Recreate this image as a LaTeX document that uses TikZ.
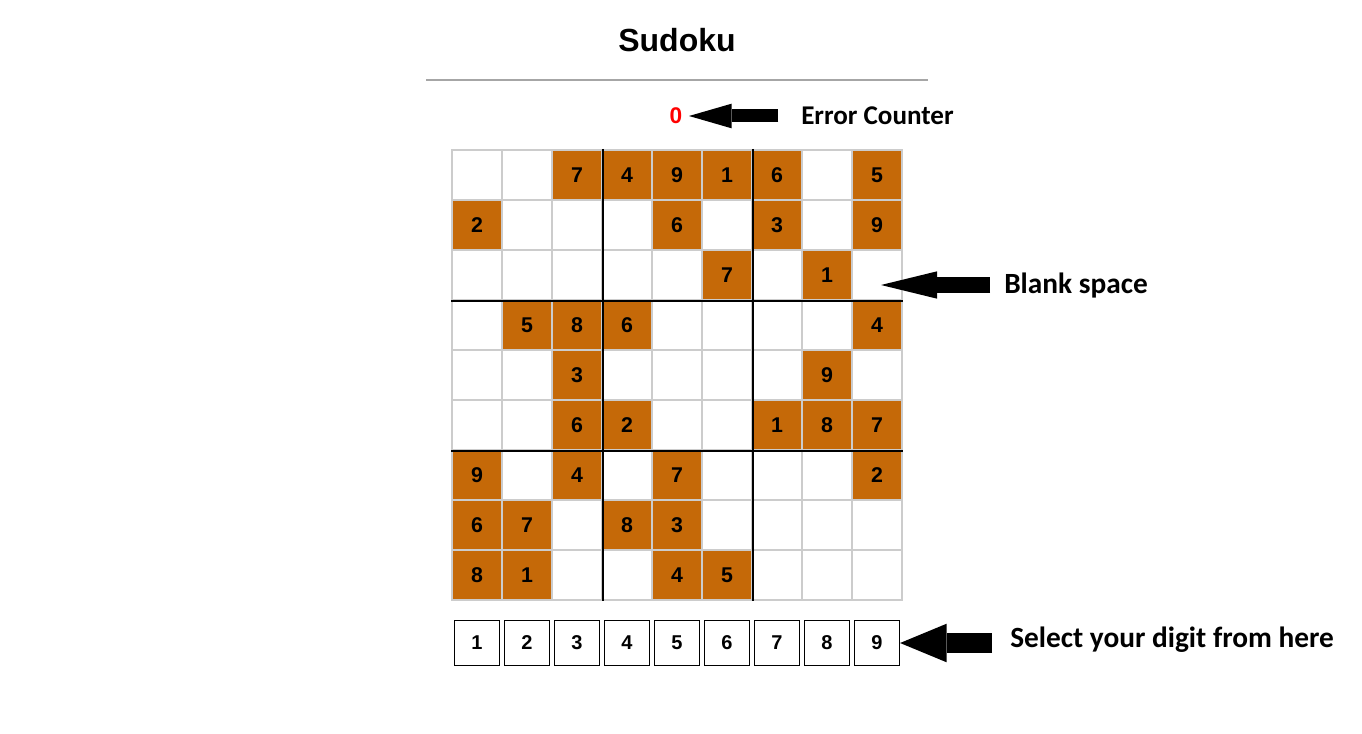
\documentclass[tikz,border=0pt]{standalone}
\usepackage{fontspec}
\setmainfont{Liberation Sans}
\newfontfamily\calfont{Carlito}
\usetikzlibrary{arrows.meta}
\definecolor{given}{RGB}{197,105,8}
\definecolor{gridgray}{RGB}{204,204,204}
\definecolor{rulegray}{RGB}{166,166,166}
\definecolor{errred}{RGB}{255,0,0}
\begin{document}
\begin{tikzpicture}[x=0.75pt,y=-0.75pt,
  cellbox/.style={draw=gridgray,line width=1.5pt,minimum size=37.5pt,inner sep=0pt,
    font=\bfseries\fontsize{16}{16}\selectfont},
  givencell/.style={cellbox,fill=given},
  blockline/.style={draw=black},
  digitbox/.style={draw=black,line width=0.8pt,minimum size=33.8pt,inner sep=0pt,
    font=\bfseries\fontsize{15}{15}\selectfont},
  note/.style={font=\calfont\bfseries\fontsize{22}{22}\selectfont,inner sep=0pt,anchor=west},
  bigarrow/.style n args={3}{draw=black,line width=#1,
    -{Triangle[length=#2,width=#3,line width=0pt]}}
]
\useasboundingbox (0,0) rectangle (1362,734);
\fill[white] (0,0) rectangle (1362,734);

% title and rule
\node[font=\bfseries\fontsize{24}{24}\selectfont,inner sep=0pt] (title) at (677,40) {Sudoku};
\coordinate (ruleL) at (426,80);
\coordinate (ruleR) at (928,80);
\draw[rulegray,line width=0.9pt] (ruleL) -- (ruleR);

% error counter
\node[text=errred,font=\bfseries\fontsize{17}{17}\selectfont,inner sep=0pt] (zero) at (676,116) {0};
\node[note,font=\calfont\bfseries\fontsize{20.3}{20.3}\selectfont] (err) at (801,116) {Error Counter};
\coordinate (errtip) at (689,116);
\draw[bigarrow={9.75pt}{32pt}{18.5pt},shorten <=17pt] (err.west |- errtip) -- (errtip);

% grid
\foreach \row [count=\r] in {
  {0,0,7,4,9,1,6,0,5},
  {2,0,0,0,6,0,3,0,9},
  {0,0,0,0,0,7,0,1,0},
  {0,5,8,6,0,0,0,0,4},
  {0,0,3,0,0,0,0,9,0},
  {0,0,6,2,0,0,1,8,7},
  {9,0,4,0,7,0,0,0,2},
  {6,7,0,8,3,0,0,0,0},
  {8,1,0,0,4,5,0,0,0}} {
  \foreach \v [count=\c] in \row {
    \ifnum\v=0
      \node[cellbox] (c-\r-\c) at ({427+50*\c},{125+50*\r}) {};
    \else
      \node[givencell] (c-\r-\c) at ({427+50*\c},{125+50*\r}) {\v};
    \fi
  }
}
\draw[blockline,line width=0.8pt] (c-1-3.north east) -- (c-9-3.south east);
\draw[blockline,line width=0.8pt] (c-1-6.north east) -- (c-9-6.south east);
\draw[blockline,line width=1.6pt] (c-3-1.south west) -- (c-3-9.south east);
\draw[blockline,line width=1.6pt] (c-6-1.south west) -- (c-6-9.south east);

% blank space
\coordinate (blanktip) at (881,285);
\node[note] (blank) at (1004,286) {Blank space};
\draw[bigarrow={12pt}{42pt}{20.5pt},shorten <=10.5pt] (blank.west |- blanktip) -- (blanktip);

% digit selector
\foreach \d in {1,...,9} {
  \node[digitbox] (d\d) at ({427+50*\d},643) {\d};
}
\node[note] (sel) at (1010,640) {Select your digit from here};
\draw[bigarrow={15.5pt}{35pt}{29pt},shorten <=13.5pt] (sel.west |- d9.east) -- (d9.east);
\end{tikzpicture}
\end{document}
